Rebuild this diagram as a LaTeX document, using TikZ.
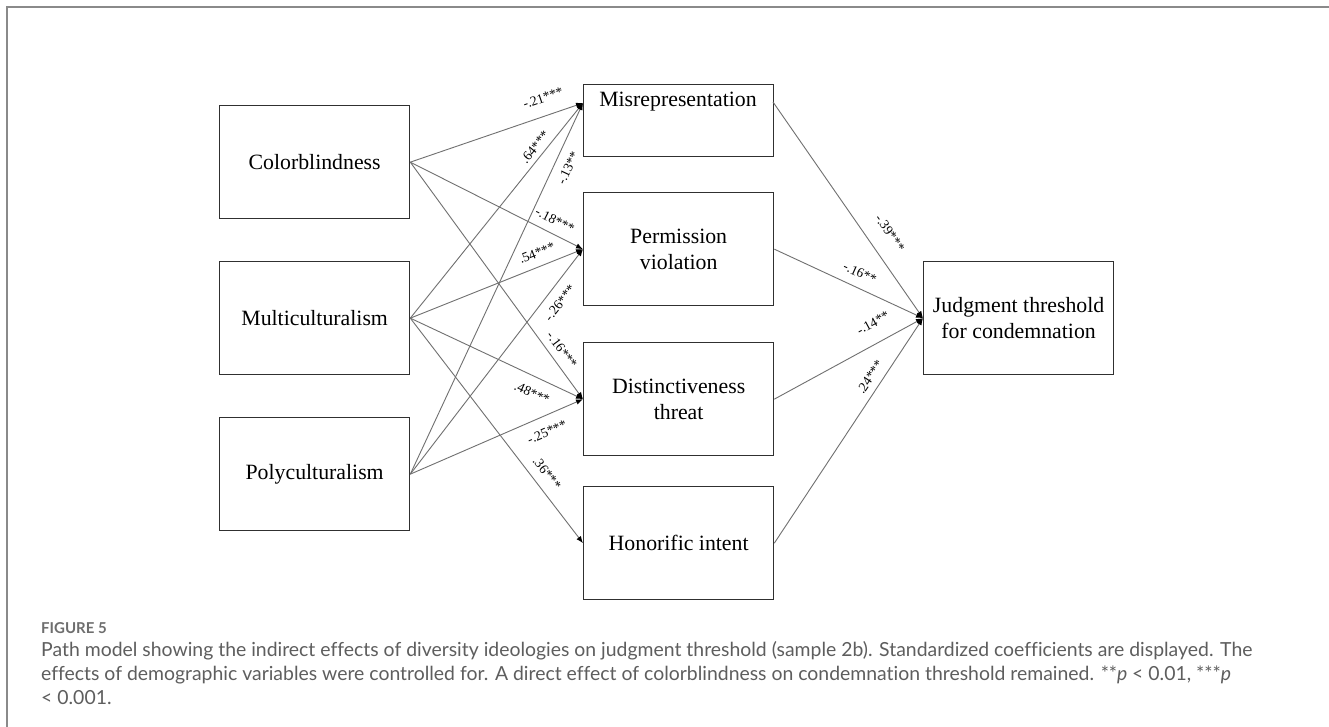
\documentclass[tikz,border=0pt]{standalone}
\usepackage{fontspec}
\setmainfont{Liberation Serif}
\newfontfamily\capfont[Ligatures=NoCommon]{Lato}
\usetikzlibrary{arrows.meta}

\definecolor{framegray}{HTML}{8A8A8A}
\definecolor{linkgray}{HTML}{707070}
\definecolor{boxline}{HTML}{303030}
\definecolor{captext}{HTML}{5E5E5E}
\definecolor{capfig}{HTML}{6E6E6E}

\begin{document}
\begin{tikzpicture}[x=1pt,y=-1pt,
  var/.style={draw=boxline,line width=1.3pt,minimum width=190pt,minimum height=113pt,
    inner sep=0pt,align=center,anchor=north west,
    font=\fontsize{21.8}{26}\selectfont},
  vartext/.style={inner sep=0pt,font=\fontsize{21.8}{26}\selectfont},
  link/.style={draw=linkgray,line width=0.9pt,-{Latex[length=7pt,width=5.5pt,color=black]}},
  coef/.style={inner sep=0pt,font=\fontsize{13.5}{14}\selectfont},
  capline/.style={anchor=base west,inner sep=0pt,text=captext,font=\capfont\fontsize{19.4}{24}\selectfont}]

\useasboundingbox (0,0) rectangle (1329,726);
\fill[white] (0,0) rectangle (1329,726);

% outer frame of the figure panel
\draw[framegray,line width=1.5pt] (7,740) -- (7,7) -- (1340,7);

% predictors
\node[var] (cb) at (219,105) {Colorblindness};
\node[var] (mc) at (219,261) {Multiculturalism};
\node[var] (pc) at (219,417) {Polyculturalism};

% mediators
\node[var,minimum height=72pt] (mr) at (583,84) {};
\node[vartext] (mrt) at (678,102) {Misrepresentation};
\node[var] (pv) at (583,192) {Permission\\violation};
\node[var] (dt) at (583,342) {Distinctiveness\\threat};
\node[var] (hi) at (583,486) {Honorific intent};

% outcome
\node[var] (jt) at (923,261) {Judgment threshold\\for condemnation};

% attachment points on the misrepresentation box
\coordinate (mrin) at (583,103);
\coordinate (mrout) at (773,102);

% paths from the ideologies
\draw[link] (cb.east) -- (mrin);
\draw[link] (cb.east) -- (pv.west);
\draw[link] (cb.east) -- (dt.west);
\draw[link] (mc.east) -- (mrin);
\draw[link] (mc.east) -- (pv.west);
\draw[link] (mc.east) -- (dt.west);
\draw[link] (mc.east) -- (hi.west);
\draw[link] (pc.east) -- (mrin);
\draw[link] (pc.east) -- (pv.west);
\draw[link] (pc.east) -- (dt.west);

% paths to the outcome
\draw[link] (mrout) -- (jt.west);
\draw[link] (pv.east) -- (jt.west);
\draw[link] (dt.east) -- (jt.west);
\draw[link] (hi.east) -- (jt.west);

% coefficients
\node[coef,rotate=19]    (c1)  at (543,98)  {-.21***};
\node[coef,rotate=-26.6] (c2)  at (555,220) {-.18***};
\node[coef,rotate=-53.4] (c3)  at (562,350) {-.16***};
\node[coef,rotate=51]    (c4)  at (535,147) {.64***};
\node[coef,rotate=21.3]  (c5)  at (537,253) {.54***};
\node[coef,rotate=-24.4] (c6)  at (532,393) {.48***};
\node[coef,rotate=-52]   (c7)  at (547,473) {.36***};
\node[coef,rotate=64.8]  (c8)  at (568,168) {-.13**};
\node[coef,rotate=51.9]  (c9)  at (560,303) {-.26***};
\node[coef,rotate=23.3]  (c10) at (547,432) {-.25***};
\node[coef,rotate=-55.1] (c11) at (890,233) {-.39***};
\node[coef,rotate=-24.1] (c12) at (860,273) {-.16**};
\node[coef,rotate=28.4]  (c13) at (873,323) {-.14**};
\node[coef,rotate=56.4]  (c14) at (870,377) {.24***};

% caption
\node[anchor=base west,inner sep=0pt,text=capfig,font=\capfont\bfseries\fontsize{15}{18}\selectfont] (fig) at (41,633) {FIGURE 5};
\node[capline] (cap1) at (41,656) {Path model showing the indirect effects of diversity ideologies on judgment threshold (sample 2b). Standardized coefficients are displayed. The};
\node[capline] (cap2) at (41,680) {effects of demographic variables were controlled for. A direct effect of colorblindness on condemnation threshold remained. **\textit{p} < 0.01, ***\textit{p}};
\node[capline] (cap3) at (41,704) {< 0.001.};
\end{tikzpicture}
\end{document}
